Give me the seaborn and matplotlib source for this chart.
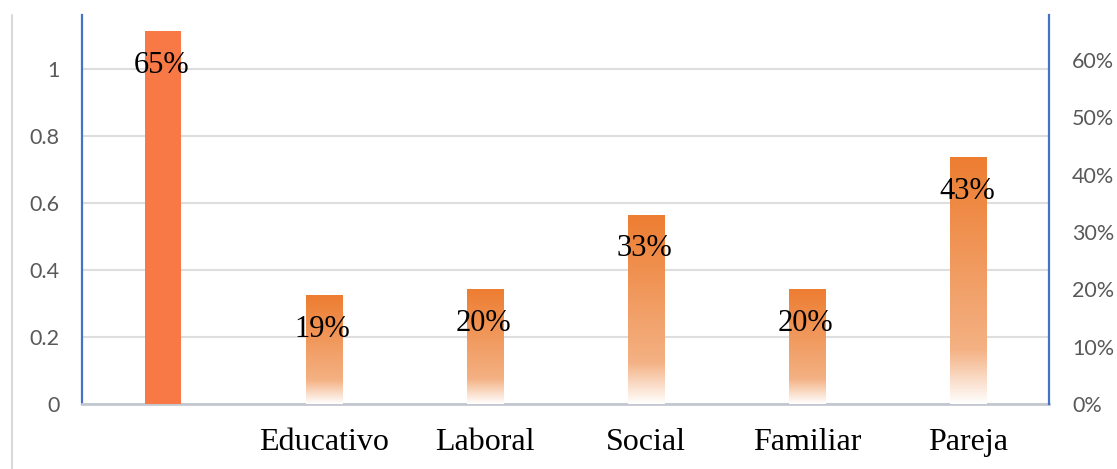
import numpy as np
import pandas as pd
import matplotlib
matplotlib.use("Agg")
import matplotlib.pyplot as plt
import seaborn as sns
from matplotlib.colors import LinearSegmentedColormap
from matplotlib.ticker import PercentFormatter, FixedLocator
from matplotlib.lines import Line2D

categories = ["", "Educativo", "Laboral", "Social", "Familiar", "Pareja"]
values = [0.65, 0.19, 0.20, 0.33, 0.20, 0.43]
labels = ["65%", "19%", "20%", "33%", "20%", "43%"]
left_ticks = [0, 0.2, 0.4, 0.6, 0.8, 1]
left_ticklabels = ["0", "0.2", "0.4", "0.6", "0.8", "1"]
right_ticks = [0, 0.1, 0.2, 0.3, 0.4, 0.5, 0.6]

sns.set_style("white")

df = pd.DataFrame({"cat": categories, "val": values})

fig = plt.figure(figsize=(11.17, 4.69), dpi=100)
ax = fig.add_axes([82/1117, 1-404/469, (1049-82)/1117, (404-15)/469])
ax2 = ax.twinx()

solid = "#F87945"
grad_top = "#ED7D31"
pal = [solid] + [grad_top] * (len(categories) - 1)

sns.barplot(data=df, x="cat", y="val", hue="cat", palette=pal, order=categories,
            hue_order=categories, width=0.224, legend=False, ax=ax2,
            saturation=1, edgecolor="none", linewidth=0)

cmap = LinearSegmentedColormap.from_list(
    "g", [(0.0, "#FFFFFF"), (0.22, "#F4B183"), (1.0, "#ED7D31")])
grad = np.linspace(0, 1, 256).reshape(-1, 1)

for i, p in enumerate(ax2.patches):
    if i == 0:
        continue
    x0, w, h = p.get_x(), p.get_width(), p.get_height()
    im = ax2.imshow(grad, cmap=cmap, origin="lower", aspect="auto",
                    extent=[x0, x0 + w, 0, h], zorder=p.get_zorder() + 0.1,
                    interpolation="bicubic")
    im.set_clip_path(p)

for p, lab in zip(ax2.patches, labels):
    cx = p.get_x() + p.get_width() / 2
    ax2.annotate(lab, (cx, p.get_height()), xytext=(-1, -30), textcoords="offset points",
                 ha="center", va="baseline", fontsize=22,
                 family="Liberation Serif", color="black", zorder=10)

ax2.set_xlim(-0.5, len(categories) - 0.5)
ax2.set_ylim(0, 0.6785)
ax.set_ylim(0, 1.161)

ax.set_yticks(left_ticks)
ax.set_yticklabels(left_ticklabels)
ax2.yaxis.set_major_locator(FixedLocator(right_ticks))
ax2.yaxis.set_major_formatter(PercentFormatter(1.0, decimals=0))

ax.grid(axis="y", color="#DEDEDE", linewidth=1.5)
ax.set_axisbelow(True)
ax2.grid(False)

for a in (ax, ax2):
    a.set_xlabel("")
    a.set_ylabel("")
    a.tick_params(axis="both", length=0)
    for s in a.spines.values():
        s.set_visible(False)

ax.spines["left"].set_visible(True)
ax.spines["left"].set_color("#4472C4")
ax.spines["left"].set_linewidth(1.6)
ax2.spines["right"].set_visible(True)
ax2.spines["right"].set_color("#4472C4")
ax2.spines["right"].set_linewidth(1.6)
ax.spines["bottom"].set_visible(True)
ax.spines["bottom"].set_color("#C3C8D0")
ax.spines["bottom"].set_linewidth(2)

ax.tick_params(axis="y", pad=16, labelsize=15.5, labelcolor="#595959")
ax2.tick_params(axis="y", pad=16.5, labelsize=15.5, labelcolor="#595959")
for t in ax.get_yticklabels() + ax2.get_yticklabels():
    t.set_family("Lato")

ax2.set_xticks(range(len(categories)))
ax2.set_xticklabels(categories)
ax.set_xticks(range(len(categories)))
ax.set_xticklabels(categories)
ax.set_xlim(-0.5, len(categories) - 0.5)
ax.tick_params(axis="x", pad=17, labelsize=23)
for t in ax.get_xticklabels():
    t.set_family("Liberation Serif")
    t.set_color("black")
ax2.tick_params(axis="x", labelbottom=False)

fig.add_artist(Line2D([12/1117, 12/1117], [0, 1-15/469], color="#D9D9D9",
                      linewidth=1.5, transform=fig.transFigure))

fig.savefig("out.png", dpi=100)
